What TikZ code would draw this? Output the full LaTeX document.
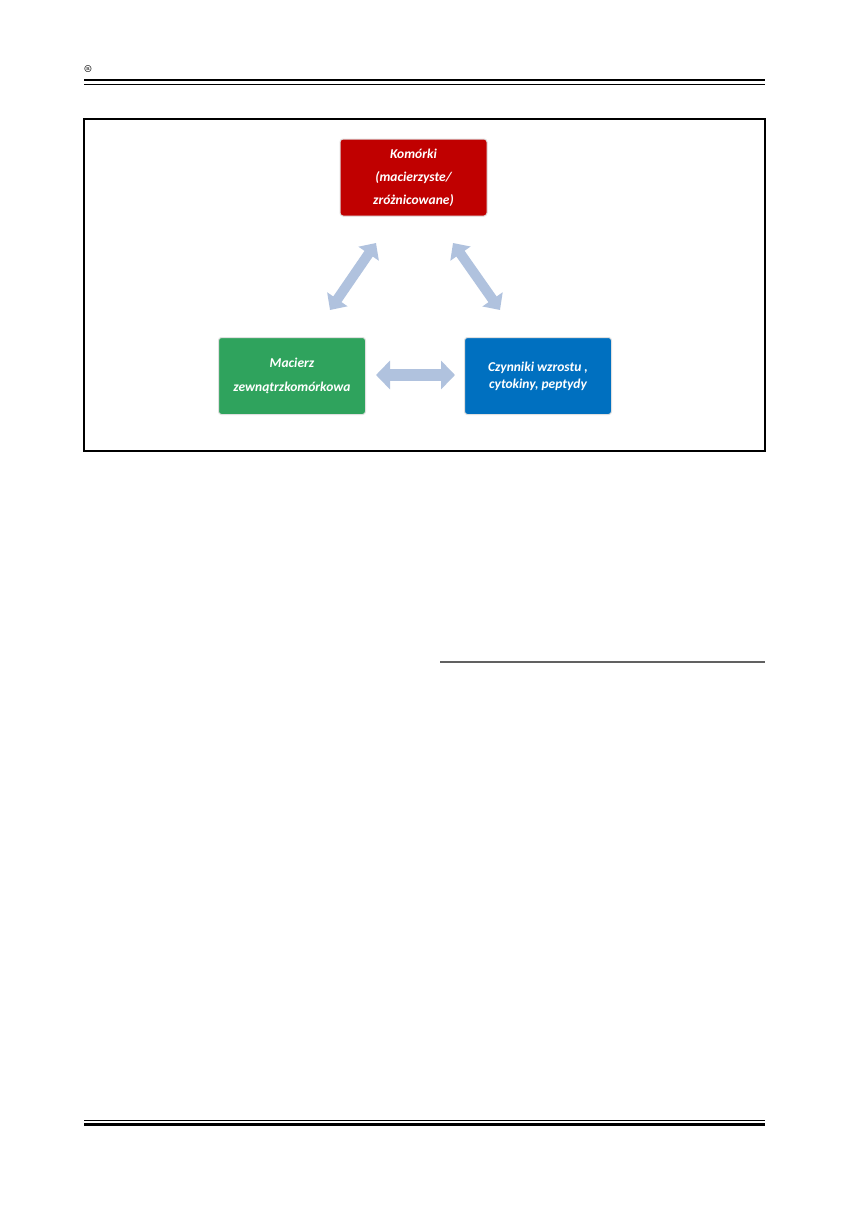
\documentclass[tikz,border=0pt]{standalone}
\usepackage{fontspec}
\newfontfamily\carl{Carlito}
\usetikzlibrary{arrows.meta}
\definecolor{cred}{HTML}{C00000}
\definecolor{cgreen}{HTML}{2FA35D}
\definecolor{cblue}{HTML}{0070C0}
\definecolor{carrow}{HTML}{B0C2DE}
\tikzset{
  box/.style={draw=black!12, line width=1pt, rounded corners=3pt, minimum width=147pt, minimum height=77pt, inner sep=0pt, text=white, align=center, font=\carl\bfseries\itshape\fontsize{13.5}{23}\selectfont},
  dbl/.style={carrow, line width=10pt, {Triangle[length=13pt,width=24pt]}-{Triangle[length=13pt,width=24pt]}},
  hdbl/.style={carrow, line width=12pt, {Triangle[length=14pt,width=28pt]}-{Triangle[length=14pt,width=28pt]}},
}
\begin{document}
\begin{tikzpicture}[x=1pt,y=-1pt]
\useasboundingbox (0,0) rectangle (850,1212);
\fill[white] (0,0) rectangle (850,1212);
% header
\node[font=\bfseries\fontsize{10}{10}\selectfont, inner sep=0pt] (reg) at (88,69) {\textregistered};
\draw[line width=2.4pt] (84,80) -- (765,80);
\draw[line width=0.9pt] (84,84.5) -- (765,84.5);
% frame
\draw[line width=1.2pt] (84,119) rectangle (765,451);
% boxes
\node[box, fill=cred] (cells) at (413.5,177.5) {Komórki\\(macierzyste/\\zróżnicowane)};
\node[box, fill=cgreen, font=\carl\bfseries\itshape\fontsize{13.5}{24}\selectfont] (ecm) at (292,376) {Macierz\\zewnątrzkomórkowa};
\node[box, fill=cblue, font=\carl\bfseries\itshape\fontsize{13.5}{17}\selectfont] (gf) at (538,376) {Czynniki wzrostu ,\\cytokiny, peptydy};
% arrow end points
\coordinate (a1) at (376,243);
\coordinate (a2) at (330,310);
\coordinate (b1) at (453,243);
\coordinate (b2) at (500,310);
\coordinate (c1) at (376,375);
\coordinate (c2) at (455,375);
\draw[dbl] (a1) -- (a2);
\draw[dbl] (b1) -- (b2);
\draw[hdbl] (c1) -- (c2);
% rule lines
\draw[line width=1.5pt, black!62] (440,662) -- (765,662);
\draw[line width=0.9pt] (84,1120) -- (765,1120);
\draw[line width=2.4pt] (84,1124.5) -- (765,1124.5);
\end{tikzpicture}
\end{document}
